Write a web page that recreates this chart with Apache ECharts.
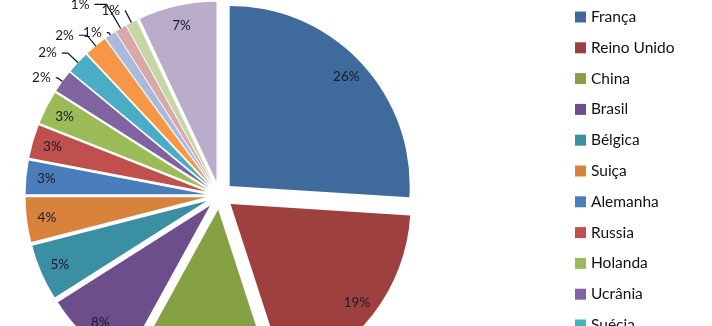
<!DOCTYPE html>
<html>
<head>
    <meta charset="utf-8">
    <title>Pie</title>
    <script src="https://cdn.jsdelivr.net/npm/echarts@6/dist/echarts.min.js"></script>
    <style>
        html, body { margin: 0; padding: 0; width: 712px; height: 326px; overflow: hidden; background: #fff; }
        /* the reference is a crop of a taller chart, so the canvas runs past the window */
        #chart { width: 712px; height: 560px; }
    </style>
</head>
<body>
<div id="chart"></div>
<script>
    const countries = ['França', 'Reino Unido', 'China', 'Brasil', 'Bélgica', 'Suiça', 'Alemanha', 'Russia',
        'Holanda', 'Ucrânia', 'Suécia', 'Espanha', 'Itália', 'Japão', 'EUA', 'Outros'];
    const shares = [26, 19, 13, 8, 5, 4, 3, 3, 3, 2, 2, 2, 1, 1, 1, 7];
    const colors = ['#3f6a9c', '#9e413e', '#86a044', '#6b4e8a', '#3b8fa3', '#d9823b', '#4a7ebb', '#c0504d',
        '#9bbb59', '#8064a2', '#4bacc6', '#f79646', '#aab9dc', '#d9a9a9', '#c4d7a5', '#b9adcb'];

    // leader lines for the small slices whose labels sit outside
    const outsideLines = {
        9: [6, 2], 10: [14, 6], 11: [14, 8], 12: [3, 2], 13: [28, 12], 14: [14, 0]
    };

    const chart = echarts.init(document.getElementById('chart'));
    const center = [219.5, 195.5];
    const font = 'Lato, "Open Sans", sans-serif';

    const pieData = countries.map((name, i) => ({
        name: name,
        value: shares[i],
        selected: true,
        itemStyle: { color: colors[i] }
    }));

    const labelData = countries.map((name, i) => {
        const item = { name: name, value: shares[i], selected: true };
        if (outsideLines[i]) {
            item.label = { position: 'outside' };
            item.labelLine = { show: true, length: outsideLines[i][0], length2: outsideLines[i][1] };
        }
        return item;
    });

    chart.setOption({
        animation: false,
        legend: {
            orient: 'vertical',
            left: 575,
            top: 9,
            padding: 0,
            itemWidth: 11,
            itemHeight: 11,
            itemGap: 14.8,
            icon: 'rect',
            data: countries,
            textStyle: { fontSize: 15.5, fontFamily: font, color: '#111' }
        },
        series: [
            {
                name: 'main',
                type: 'pie',
                center: center,
                radius: 180,
                startAngle: 90,
                selectedMode: 'multiple',
                selectedOffset: 14,
                avoidLabelOverlap: false,
                label: { show: false },
                labelLine: { show: false },
                itemStyle: { borderWidth: 0 },
                emphasis: { scale: false },
                data: pieData
            },
            {
                name: 'labels',
                type: 'pie',
                center: center,
                radius: [134, 180],
                startAngle: 90,
                silent: true,
                selectedMode: 'multiple',
                selectedOffset: 14,
                avoidLabelOverlap: false,
                itemStyle: { color: 'rgba(0,0,0,0)', borderWidth: 0 },
                label: {
                    show: true,
                    position: 'inside',
                    fontSize: 13.5,
                    fontFamily: font,
                    color: '#1a1a2a',
                    formatter: p => Math.round(p.percent) + '%'
                },
                labelLine: { lineStyle: { color: '#111', width: 1.2 } },
                data: labelData
            }
        ]
    });
</script>
</body>
</html>
